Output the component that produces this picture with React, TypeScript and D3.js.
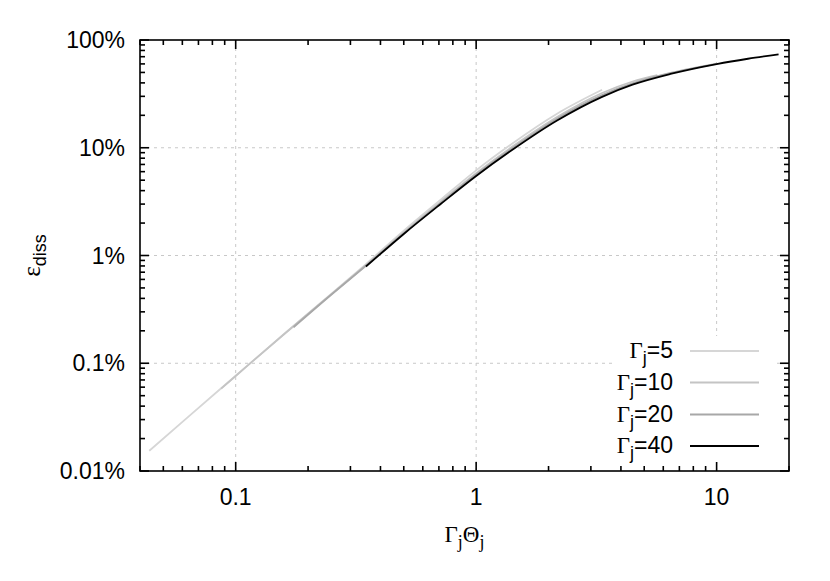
import { useEffect, useRef } from "react";
import * as d3 from "d3";

// values (x = Γj·Θj, y = ε_diss in %)
const gamma5X = [0.0437, 0.0631, 0.1, 0.158, 0.251, 0.348, 0.5, 0.71, 1.0, 1.41, 2.17, 3.34];
const gamma5Y = [0.0154, 0.0315, 0.0766, 0.185, 0.445, 0.832, 1.7, 3.28, 6.17, 10.9, 20.7, 34.5];
const gamma10X = [0.087, 0.1, 0.158, 0.251, 0.348, 0.5, 0.71, 1.0, 1.41, 2.17, 3.34, 4.47, 5.67];
const gamma10Y = [0.0582, 0.0762, 0.184, 0.44, 0.813, 1.64, 3.13, 5.81, 10.2, 19.3, 32.2, 41.2, 47.3];
const gamma20X = [0.174, 0.251, 0.348, 0.5, 0.71, 1.0, 1.41, 2.17, 3.34, 4.47, 6.43, 10];
const gamma20Y = [0.216, 0.437, 0.804, 1.61, 3.06, 5.64, 9.84, 18.6, 30.8, 39.5, 49.5, 60.5];
const gamma40X = [0.348, 0.5, 0.71, 1.0, 1.41, 2.17, 3.34, 4.47, 6.43, 10, 13.5, 18.1];
const gamma40Y = [0.79, 1.585, 2.99, 5.47, 9.52, 17.9, 29.7, 38.5, 48.4, 59.8, 67.0, 73.6];

const gammaLabels = ["5", "10", "20", "40"];
const xTickValues = [0.1, 1, 10];
const xTickLabels = ["0.1", "1", "10"];
const yTickValues = [0.01, 0.1, 1, 10, 100];
const yTickLabels = ["0.01%", "0.1%", "1%", "10%", "100%"];

export default function App() {
  const ref = useRef<SVGSVGElement>(null);

  useEffect(() => {
    const width = 830;
    const height = 581;
    const m = { left: 140, right: 41, top: 40, bottom: 110 };
    const sans = "'Liberation Sans', Arial, Helvetica, sans-serif";
    const serif = "'Liberation Serif', 'Times New Roman', serif";
    const fs = 23;

    const svg = d3.select(ref.current).attr("width", width).attr("height", height);
    svg.selectAll("*").remove();

    const x = d3.scaleLog().domain([0.04, 20]).range([m.left, width - m.right]);
    const y = d3.scaleLog().domain([0.01, 100]).range([height - m.bottom, m.top]);
    const [x0, x1] = x.range();
    const [y0, y1] = y.range();

    // --- grid
    const grid = svg.append("g").attr("stroke", "#c8c8c8").attr("stroke-width", 1).attr("stroke-dasharray", "3,4");
    xTickValues.forEach(v => {
      grid.append("line").attr("x1", x(v)).attr("x2", x(v)).attr("y1", y0).attr("y2", y1);
    });
    yTickValues.slice(1, -1).forEach(v => {
      grid.append("line").attr("x1", x0).attr("x2", x1).attr("y1", y(v)).attr("y2", y(v));
    });

    // --- curves
    const series = [
      { xs: gamma5X, ys: gamma5Y, color: "#d6d6d6" },
      { xs: gamma10X, ys: gamma10Y, color: "#c4c4c4" },
      { xs: gamma20X, ys: gamma20Y, color: "#a8a8a8" },
      { xs: gamma40X, ys: gamma40Y, color: "#000000" },
    ];
    const line = d3
      .line<[number, number]>()
      .x(d => x(d[0]))
      .y(d => y(d[1]))
      .curve(d3.curveMonotoneX);

    series.forEach(s => {
      svg
        .append("path")
        .attr("d", line(s.xs.map((v, i) => [v, s.ys[i]] as [number, number])))
        .attr("fill", "none")
        .attr("stroke", s.color)
        .attr("stroke-width", 1.8);
    });

    // --- legend (opaque box)
    svg.append("rect").attr("x", 613).attr("y", 336).attr("width", 160).attr("height", 126).attr("fill", "#fff");
    const rowY = [351, 382.5, 414.5, 446];
    series.forEach((s, i) => {
      const t = svg
        .append("text")
        .attr("x", 673)
        .attr("y", rowY[i] + 7)
        .attr("text-anchor", "end")
        .style("font-family", sans)
        .style("font-size", fs + "px");
      t.append("tspan").style("font-family", serif).text("Γ");
      t.append("tspan").attr("dy", 6).style("font-size", fs * 0.78 + "px").text("j");
      t.append("tspan").attr("dy", -6).text("=" + gammaLabels[i]);
      svg
        .append("line")
        .attr("x1", 690)
        .attr("x2", 759)
        .attr("y1", rowY[i])
        .attr("y2", rowY[i])
        .attr("stroke", s.color)
        .attr("stroke-width", 1.8);
    });

    // --- border + ticks (inward, mirrored)
    const ax = svg.append("g").attr("stroke", "#000").attr("stroke-width", 1.6);
    x.ticks().forEach(v => {
      const major = Math.abs(Math.log10(v) - Math.round(Math.log10(v))) < 1e-9;
      const len = major ? 9 : 5;
      ax.append("line").attr("x1", x(v)).attr("x2", x(v)).attr("y1", y0).attr("y2", y0 - len);
      ax.append("line").attr("x1", x(v)).attr("x2", x(v)).attr("y1", y1).attr("y2", y1 + len);
    });
    y.ticks().forEach(v => {
      const major = Math.abs(Math.log10(v) - Math.round(Math.log10(v))) < 1e-9;
      const len = major ? 9 : 5;
      ax.append("line").attr("x1", x0).attr("x2", x0 + len).attr("y1", y(v)).attr("y2", y(v));
      ax.append("line").attr("x1", x1).attr("x2", x1 - len).attr("y1", y(v)).attr("y2", y(v));
    });
    ax.append("rect")
      .attr("x", x0)
      .attr("y", y1)
      .attr("width", x1 - x0)
      .attr("height", y0 - y1)
      .attr("fill", "none");

    // --- tick labels
    xTickValues.forEach((v, i) => {
      svg
        .append("text")
        .attr("x", x(v))
        .attr("y", y0 + 34)
        .attr("text-anchor", "middle")
        .style("font-family", sans)
        .style("font-size", fs + "px")
        .text(xTickLabels[i]);
    });
    yTickValues.forEach((v, i) => {
      svg
        .append("text")
        .attr("x", x0 - 15)
        .attr("y", y(v) + 8)
        .attr("text-anchor", "end")
        .style("font-family", sans)
        .style("font-size", fs + "px")
        .text(yTickLabels[i]);
    });

    // --- axis titles
    const xt = svg
      .append("text")
      .attr("x", (x0 + x1) / 2)
      .attr("y", 542)
      .attr("text-anchor", "middle")
      .style("font-family", serif)
      .style("font-size", fs + "px");
    xt.append("tspan").text("Γ");
    xt.append("tspan").attr("dy", 6).style("font-size", fs * 0.78 + "px").text("j");
    xt.append("tspan").attr("dy", -6).text("Θ");
    xt.append("tspan").attr("dy", 6).style("font-size", fs * 0.78 + "px").text("j");

    const yt = svg
      .append("text")
      .attr("transform", `translate(40, ${(y0 + y1) / 2}) rotate(-90)`)
      .attr("text-anchor", "middle")
      .style("font-family", serif)
      .style("font-size", fs + 2 + "px");
    yt.append("tspan").text("ε");
    yt.append("tspan").attr("dy", 6).style("font-family", sans).style("font-size", fs * 0.78 + "px").text("diss");
  }, []);

  return <svg ref={ref} style={{ position: "absolute", left: 0, top: 0 }} />;
}
